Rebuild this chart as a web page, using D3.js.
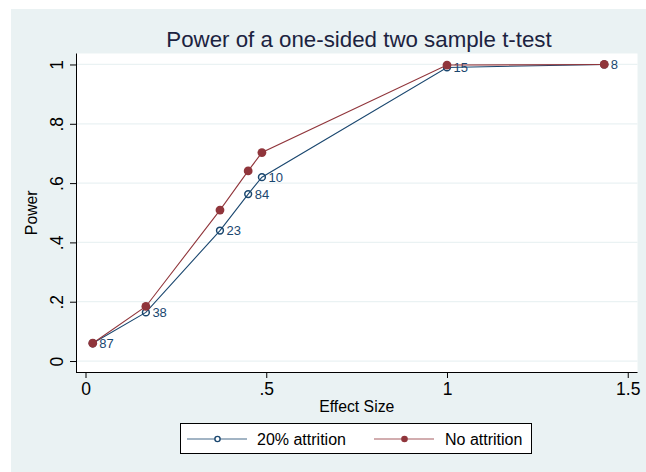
<!DOCTYPE html>
<html>
<head>
<meta charset="utf-8">
<script src="https://cdn.jsdelivr.net/npm/d3@7"></script>
<style>
  html, body { margin: 0; padding: 0; background: #fff; }
  svg { display: block; font-family: "Liberation Sans", Arial, Helvetica, sans-serif; }
</style>
</head>
<body>
<div id="chart"></div>
<script>
// values
var effectSize   = [0.02, 0.167, 0.372, 0.45, 0.488, 1.0, 1.435];
var powerAttr    = [0.06, 0.164, 0.44, 0.563, 0.62, 0.99, 1.0];
var powerNoAttr  = [0.06, 0.184, 0.509, 0.641, 0.703, 0.998, 1.0];
var pointLabels  = ["87", "38", "23", "84", "10", "15", "8"];
var xTickValues  = [0, 0.5, 1, 1.5];
var xTickLabels  = ["0", ".5", "1", "1.5"];
var yTickValues  = [0, 0.2, 0.4, 0.6, 0.8, 1];
var yTickLabels  = ["0", ".2", ".4", ".6", ".8", "1"];
var seriesNames  = ["20% attrition", "No attrition"];

var W = 646, H = 472;
var navy = "#1a476f", maroon = "#90353b", bg = "#eaf2f3";

var plot = {left: 76, right: 637.5, top: 53.5, bottom: 372};

var x = d3.scaleLinear().domain([-0.0263, 1.527]).range([plot.left, plot.right]);
var y = d3.scaleLinear().domain([-0.037, 1.037]).range([plot.bottom, plot.top]);

var svg = d3.select("#chart").append("svg")
    .attr("width", W)
    .attr("height", H);

// graph background
svg.append("rect").attr("x", 11).attr("y", 9)
    .attr("width", W - 11).attr("height", H - 9)
    .attr("fill", bg);

// plot region
svg.append("rect")
    .attr("x", plot.left).attr("y", plot.top)
    .attr("width", plot.right - plot.left).attr("height", plot.bottom - plot.top)
    .attr("fill", "#fff");

// grid lines
svg.append("g").selectAll("line").data(yTickValues).enter().append("line")
    .attr("x1", plot.left).attr("x2", plot.right)
    .attr("y1", function(d) { return y(d); }).attr("y2", function(d) { return y(d); })
    .attr("stroke", bg).attr("stroke-width", 1.2);

// axes
var xAxis = d3.axisBottom(x).tickValues(xTickValues).tickSize(6).tickPadding(5)
    .tickFormat(function(d, i) { return xTickLabels[i]; });
var yAxis = d3.axisLeft(y).tickValues(yTickValues).tickSize(6).tickPadding(4)
    .tickFormat(function(d, i) { return yTickLabels[i]; });

var gx = svg.append("g").attr("transform", "translate(0," + plot.bottom + ")").call(xAxis);
gx.select(".domain").attr("d", "M" + plot.left + ",0.5H" + plot.right).attr("stroke", "#000");
gx.selectAll(".tick text").attr("font-size", 17.5).attr("fill", "#000").attr("font-family", null);
gx.selectAll(".tick line").attr("stroke", "#000");

var gy = svg.append("g").attr("transform", "translate(" + plot.left + ",0)").call(yAxis);
gy.select(".domain").attr("d", "M0.5," + plot.top + "V" + plot.bottom).attr("stroke", "#000");
gy.selectAll(".tick line").attr("stroke", "#000");
gy.selectAll(".tick text")
    .attr("font-size", 17.5).attr("fill", "#000").attr("font-family", null)
    .attr("x", null).attr("dy", null)
    .attr("text-anchor", "middle")
    .attr("transform", "translate(-13,0) rotate(-90)");

// axis titles
svg.append("text").attr("x", (plot.left + plot.right) / 2).attr("y", 412)
    .attr("text-anchor", "middle").attr("font-size", 15.8).attr("fill", "#000")
    .text("Effect Size");
svg.append("text")
    .attr("transform", "translate(37," + ((plot.top + plot.bottom) / 2) + ") rotate(-90)")
    .attr("text-anchor", "middle").attr("font-size", 15.8).attr("fill", "#000")
    .text("Power");

// title
svg.append("text").attr("x", 359).attr("y", 47)
    .attr("text-anchor", "middle").attr("font-size", 22.3).attr("fill", "#1c2340")
    .text("Power of a one-sided two sample t-test");

var line = d3.line()
    .x(function(d) { return x(d[0]); })
    .y(function(d) { return y(d[1]); });

var attrPts = effectSize.map(function(e, i) { return [e, powerAttr[i]]; });
var noAttrPts = effectSize.map(function(e, i) { return [e, powerNoAttr[i]]; });

// series 1: 20% attrition (hollow, labelled)
svg.append("path").datum(attrPts).attr("d", line)
    .attr("fill", "none").attr("stroke", navy).attr("stroke-width", 1.1);
svg.append("g").selectAll("circle").data(attrPts).enter().append("circle")
    .attr("cx", function(d) { return x(d[0]); })
    .attr("cy", function(d) { return y(d[1]); })
    .attr("r", 3.4).attr("fill", "none").attr("stroke", navy).attr("stroke-width", 1.5);
svg.append("g").selectAll("text").data(attrPts).enter().append("text")
    .attr("x", function(d) { return x(d[0]) + 6.5; })
    .attr("y", function(d) { return y(d[1]) + 4.6; })
    .attr("font-size", 13).attr("fill", navy)
    .text(function(d, i) { return pointLabels[i]; });

// series 2: no attrition (filled)
svg.append("path").datum(noAttrPts).attr("d", line)
    .attr("fill", "none").attr("stroke", maroon).attr("stroke-width", 1.1);
svg.append("g").selectAll("circle").data(noAttrPts).enter().append("circle")
    .attr("cx", function(d) { return x(d[0]); })
    .attr("cy", function(d) { return y(d[1]); })
    .attr("r", 4.4).attr("fill", maroon);

// legend
var lg = svg.append("g");
lg.append("rect").attr("x", 180.5).attr("y", 423.5).attr("width", 351).attr("height", 30)
    .attr("fill", "#fff").attr("stroke", "#000").attr("stroke-width", 1);
var legendItems = [
  {name: seriesNames[0], color: navy, x0: 187, hollow: true, tx: 257},
  {name: seriesNames[1], color: maroon, x0: 374, hollow: false, tx: 445}
];
legendItems.forEach(function(it) {
  lg.append("line").attr("x1", it.x0).attr("x2", it.x0 + 60).attr("y1", 439).attr("y2", 439)
      .attr("stroke", it.color).attr("stroke-width", 1.1).attr("opacity", 0.8);
  lg.append("circle").attr("cx", it.x0 + 30.5).attr("cy", 439)
      .attr("r", it.hollow ? 2.6 : 3.3)
      .attr("fill", it.hollow ? "#fff" : it.color)
      .attr("stroke", it.hollow ? it.color : "none").attr("stroke-width", 1.4);
  lg.append("text").attr("x", it.tx).attr("y", 444.5)
      .attr("font-size", 16).attr("fill", "#000").text(it.name);
});
</script>
</body>
</html>
